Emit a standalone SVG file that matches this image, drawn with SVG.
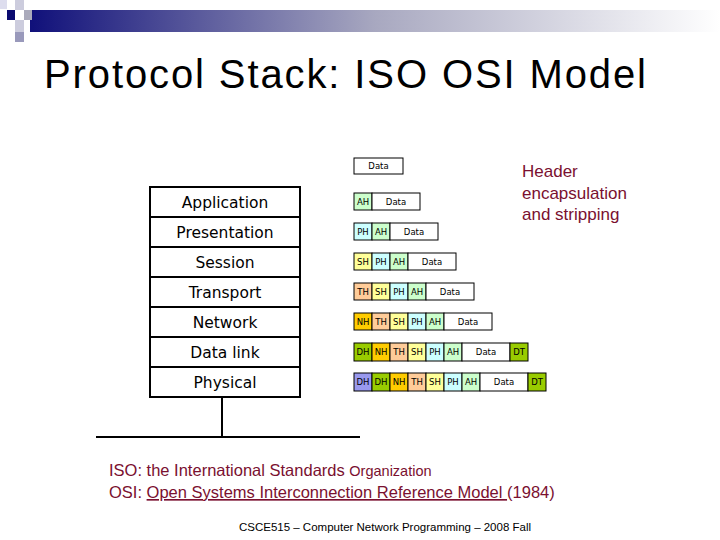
<svg xmlns="http://www.w3.org/2000/svg" width="720" height="540" viewBox="0 0 720 540">
<defs>
<linearGradient id="bar" x1="0" x2="1" y1="0" y2="0"><stop offset="0" stop-color="#10107a"/><stop offset="0.5" stop-color="#a8a8c0"/><stop offset="1" stop-color="#ffffff"/></linearGradient>
</defs>
<style>
.layer rect{fill:#fff;stroke:#000;stroke-width:2}
.layer text{font-family:"DejaVu Sans",sans-serif;font-size:15.5px;text-anchor:middle;fill:#000}
.c{stroke:#000;stroke-width:1}
.ct{font-family:"DejaVu Sans",sans-serif;font-size:8.5px;text-anchor:middle;fill:#000}
.red{font-family:"Liberation Sans",sans-serif;fill:#7a1030}
.AH{fill:#ccffcc}.PH{fill:#ccffff}.SH{fill:#ffff99}.TH{fill:#ffcc99}.NH{fill:#ffcc00}.DH{fill:#99cc00}.PD{fill:#9999ee}.W{fill:#fff}
</style>
<rect width="720" height="540" fill="#fff"/>
<rect x="30" y="10" width="690" height="22" fill="url(#bar)"/>
<rect x="0" y="0" width="7" height="9" fill="#dde"/>
<rect x="15" y="0" width="9" height="10" fill="#ccd"/>
<rect x="7" y="10" width="8" height="10" fill="#0a0a70"/>
<rect x="24" y="10" width="8" height="10" fill="#aab"/>
<rect x="15" y="20" width="9" height="12" fill="#ccd"/>
<rect x="15" y="32" width="9" height="10" fill="#99b"/>
<text x="44" y="88" font-family="Liberation Sans,sans-serif" font-size="40" textLength="602" fill="#000">Protocol Stack: ISO OSI Model</text>

<g id="stack" class="layer">
<rect x="150" y="187" width="150" height="30"/><text x="225" y="208">Application</text>
<rect x="150" y="217" width="150" height="30"/><text x="225" y="238">Presentation</text>
<rect x="150" y="247" width="150" height="30"/><text x="225" y="268">Session</text>
<rect x="150" y="277" width="150" height="30"/><text x="225" y="298">Transport</text>
<rect x="150" y="307" width="150" height="30"/><text x="225" y="328">Network</text>
<rect x="150" y="337" width="150" height="30"/><text x="225" y="358">Data link</text>
<rect x="150" y="367" width="150" height="30"/><text x="225" y="388">Physical</text>
</g>
<g id="wire" stroke="#000" stroke-width="2">
<line x1="222" y1="397" x2="222" y2="437"/>
<line x1="96" y1="437" x2="360" y2="437"/>
</g>

<g id="packets">
<rect class="c W" x="354" y="158" width="49" height="16"/><text class="ct" x="378.5" y="169">Data</text>

<rect class="c AH" x="354" y="193" width="18" height="17"/><text class="ct" x="363" y="205">AH</text>
<rect class="c W" x="372" y="193" width="48" height="17"/><text class="ct" x="396" y="205">Data</text>

<rect class="c PH" x="354" y="223" width="18" height="17"/><text class="ct" x="363" y="235">PH</text>
<rect class="c AH" x="372" y="223" width="18" height="17"/><text class="ct" x="381" y="235">AH</text>
<rect class="c W" x="390" y="223" width="48" height="17"/><text class="ct" x="414" y="235">Data</text>

<rect class="c SH" x="354" y="253" width="18" height="17"/><text class="ct" x="363" y="265">SH</text>
<rect class="c PH" x="372" y="253" width="18" height="17"/><text class="ct" x="381" y="265">PH</text>
<rect class="c AH" x="390" y="253" width="18" height="17"/><text class="ct" x="399" y="265">AH</text>
<rect class="c W" x="408" y="253" width="48" height="17"/><text class="ct" x="432" y="265">Data</text>

<rect class="c TH" x="354" y="283" width="18" height="17"/><text class="ct" x="363" y="295">TH</text>
<rect class="c SH" x="372" y="283" width="18" height="17"/><text class="ct" x="381" y="295">SH</text>
<rect class="c PH" x="390" y="283" width="18" height="17"/><text class="ct" x="399" y="295">PH</text>
<rect class="c AH" x="408" y="283" width="18" height="17"/><text class="ct" x="417" y="295">AH</text>
<rect class="c W" x="426" y="283" width="48" height="17"/><text class="ct" x="450" y="295">Data</text>

<rect class="c NH" x="354" y="313" width="18" height="17"/><text class="ct" x="363" y="325">NH</text>
<rect class="c TH" x="372" y="313" width="18" height="17"/><text class="ct" x="381" y="325">TH</text>
<rect class="c SH" x="390" y="313" width="18" height="17"/><text class="ct" x="399" y="325">SH</text>
<rect class="c PH" x="408" y="313" width="18" height="17"/><text class="ct" x="417" y="325">PH</text>
<rect class="c AH" x="426" y="313" width="18" height="17"/><text class="ct" x="435" y="325">AH</text>
<rect class="c W" x="444" y="313" width="48" height="17"/><text class="ct" x="468" y="325">Data</text>

<rect class="c DH" x="354" y="343" width="18" height="18"/><text class="ct" x="363" y="355">DH</text>
<rect class="c NH" x="372" y="343" width="18" height="18"/><text class="ct" x="381" y="355">NH</text>
<rect class="c TH" x="390" y="343" width="18" height="18"/><text class="ct" x="399" y="355">TH</text>
<rect class="c SH" x="408" y="343" width="18" height="18"/><text class="ct" x="417" y="355">SH</text>
<rect class="c PH" x="426" y="343" width="18" height="18"/><text class="ct" x="435" y="355">PH</text>
<rect class="c AH" x="444" y="343" width="18" height="18"/><text class="ct" x="453" y="355">AH</text>
<rect class="c W" x="462" y="343" width="48" height="18"/><text class="ct" x="486" y="355">Data</text>
<rect class="c DH" x="510" y="343" width="18" height="18"/><text class="ct" x="519" y="355">DT</text>

<rect class="c PD" x="354" y="373" width="18" height="18"/><text class="ct" x="363" y="385">DH</text>
<rect class="c DH" x="372" y="373" width="18" height="18"/><text class="ct" x="381" y="385">DH</text>
<rect class="c NH" x="390" y="373" width="18" height="18"/><text class="ct" x="399" y="385">NH</text>
<rect class="c TH" x="408" y="373" width="18" height="18"/><text class="ct" x="417" y="385">TH</text>
<rect class="c SH" x="426" y="373" width="18" height="18"/><text class="ct" x="435" y="385">SH</text>
<rect class="c PH" x="444" y="373" width="18" height="18"/><text class="ct" x="453" y="385">PH</text>
<rect class="c AH" x="462" y="373" width="18" height="18"/><text class="ct" x="471" y="385">AH</text>
<rect class="c W" x="480" y="373" width="48" height="18"/><text class="ct" x="504" y="385">Data</text>
<rect class="c DH" x="528" y="373" width="18" height="18"/><text class="ct" x="537" y="385">DT</text>
</g>

<text class="red" font-size="17" x="522" y="177">Header</text>
<text class="red" font-size="17" x="522" y="199">encapsulation</text>
<text class="red" font-size="17" x="522" y="220">and stripping</text>

<text class="red" font-size="16.5" x="109" y="476">ISO: the International Standards <tspan font-size="14.5">Organization</tspan></text>
<text class="red" font-size="16.5" x="109" y="498">OSI: <tspan text-decoration="underline">Open Systems Interconnection Reference Model </tspan>(1984)</text>
<text x="385" y="531" font-family="Liberation Sans,sans-serif" font-size="11.5" text-anchor="middle" fill="#000">CSCE515 – Computer Network Programming – 2008 Fall</text>
</svg>
